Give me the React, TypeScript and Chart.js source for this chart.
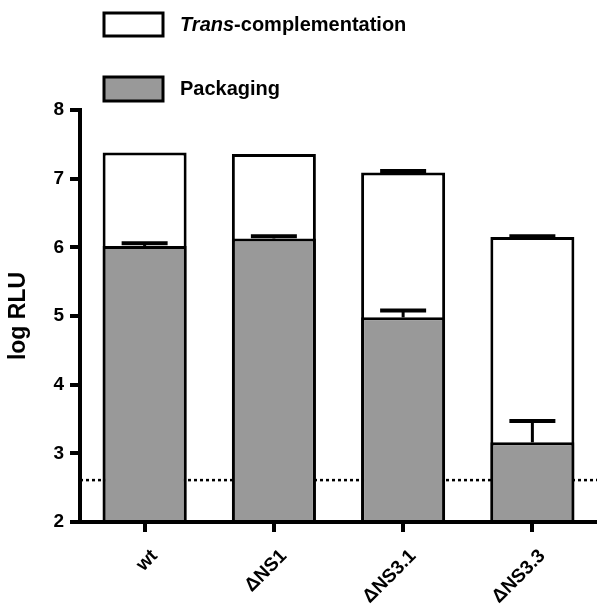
import React, { useEffect, useRef } from "react";
import { Chart, registerables } from "chart.js";
Chart.register(...registerables);

const categories = ["wt", "ΔNS1", "ΔNS3.1", "ΔNS3.3"];
const transValues = [7.38, 7.36, 7.09, 6.15];
const transErrors = [0, 0, 0.02, 0.01];
const packagingValues = [6.02, 6.13, 4.98, 3.16];
const packagingErrors = [0.04, 0.03, 0.1, 0.31];
const detectionLimit = 2.61;
const yMin = 2;
const yMax = 8;
const yStep = 1;
const yTitle = "log RLU";
const legendItalic = "Trans";
const legendRest = "-complementation";
const legendPackaging = "Packaging";

const FONT = "'Liberation Sans', Arial, sans-serif";
const GREY = "#999999";

export default function App() {
  const ref = useRef<HTMLCanvasElement | null>(null);
  useEffect(() => {
    if (!ref.current) return;
    const errorBars = {
      id: "errorBars",
      beforeDatasetsDraw(chart: any) {
        const { ctx, chartArea } = chart;
        const y = chart.scales.y.getPixelForValue(detectionLimit);
        ctx.save();
        ctx.strokeStyle = "#000";
        ctx.lineWidth = 2.5;
        ctx.setLineDash([3, 3]);
        ctx.beginPath();
        ctx.moveTo(chartArea.left, y);
        ctx.lineTo(chart.width, y);
        ctx.stroke();
        ctx.restore();
      },
      afterDatasetsDraw(chart: any) {
        const { ctx } = chart;
        const ys = chart.scales.y;
        const errs = [transErrors, packagingErrors];
        const vals = [transValues, packagingValues];
        ctx.save();
        ctx.strokeStyle = "#000";
        [0, 1].forEach((di) => {
          const meta = chart.getDatasetMeta(di);
          meta.data.forEach((bar: any, i: number) => {
            const e = errs[di][i];
            if (!e) return;
            const top = ys.getPixelForValue(vals[di][i]);
            const cap = ys.getPixelForValue(vals[di][i] + e);
            ctx.lineWidth = 3;
            ctx.beginPath();
            ctx.moveTo(bar.x, top);
            ctx.lineTo(bar.x, cap);
            ctx.stroke();
            ctx.lineWidth = 4;
            ctx.beginPath();
            ctx.moveTo(bar.x - 23, cap);
            ctx.lineTo(bar.x + 23, cap);
            ctx.stroke();
          });
        });
        ctx.restore();
      },
      afterDraw(chart: any) {
        const { ctx } = chart;
        ctx.save();
        ctx.strokeStyle = "#000";
        ctx.lineWidth = 3;
        ctx.fillStyle = "#fff";
        ctx.fillRect(104, 13, 59, 23);
        ctx.strokeRect(104, 13, 59, 23);
        ctx.fillStyle = GREY;
        ctx.fillRect(104, 77, 59, 24);
        ctx.strokeRect(104, 77, 59, 24);
        ctx.fillStyle = "#000";
        ctx.textBaseline = "middle";
        ctx.textAlign = "left";
        ctx.font = `italic bold 20px ${FONT}`;
        ctx.fillText(legendItalic, 180, 25);
        const w = ctx.measureText(legendItalic).width;
        ctx.font = `bold 20px ${FONT}`;
        ctx.fillText(legendRest, 180 + w, 25);
        ctx.fillText(legendPackaging, 180, 89);
        ctx.restore();
      },
    };
    const chart = new Chart(ref.current, {
      type: "bar",
      data: {
        labels: categories,
        datasets: [
          {
            label: "Trans-complementation",
            data: transValues,
            backgroundColor: "#ffffff",
            borderColor: "#000",
            borderWidth: 3,
            base: yMin,
            grouped: false,
            order: 2,
            barPercentage: 0.65,
            categoryPercentage: 1,
          } as any,
          {
            label: "Packaging",
            data: packagingValues,
            backgroundColor: GREY,
            borderColor: "#000",
            borderWidth: 3,
            base: yMin,
            grouped: false,
            order: 1,
            barPercentage: 0.65,
            categoryPercentage: 1,
          } as any,
        ],
      },
      options: {
        responsive: false,
        animation: false,
        layout: { padding: { top: 110, right: 0, left: 0, bottom: 0 } },
        plugins: { legend: { display: false }, tooltip: { enabled: false } },
        scales: {
          x: {
            z: 1,
            afterFit: (s: any) => { s.height = 82; },
            grid: {
              offset: false,
              drawOnChartArea: false,
              drawTicks: true,
              tickLength: 10,
              lineWidth: 4,
              color: "#000",
            },
            border: { display: true, color: "#000", width: 4 },
            ticks: {
              color: "#000",
              font: { family: FONT, weight: "bold", size: 19 },
              minRotation: 45,
              maxRotation: 45,
              padding: 13,
              labelOffset: 10,
            },
          },
          y: {
            min: yMin,
            max: yMax,
            afterFit: (s: any) => { s.width = 80; },
            grid: {
              drawOnChartArea: false,
              drawTicks: true,
              tickLength: 10,
              lineWidth: 4,
              color: "#000",
            },
            border: { display: true, color: "#000", width: 4 },
            ticks: {
              stepSize: yStep,
              color: "#000",
              font: { family: FONT, weight: "bold", size: 19 },
              padding: 6,
            },
            title: {
              display: true,
              text: yTitle,
              color: "#000",
              font: { family: FONT, weight: "bold", size: 23 },
              padding: { top: 5, bottom: 0 },
            },
          },
        },
      } as any,
      plugins: [errorBars],
    });
    return () => chart.destroy();
  }, []);
  return (
    <div style={{ position: "absolute", left: 0, top: 0, width: 597, height: 604 }}>
      <canvas ref={ref} width={597} height={604} style={{ display: "block" }} />
    </div>
  );
}
